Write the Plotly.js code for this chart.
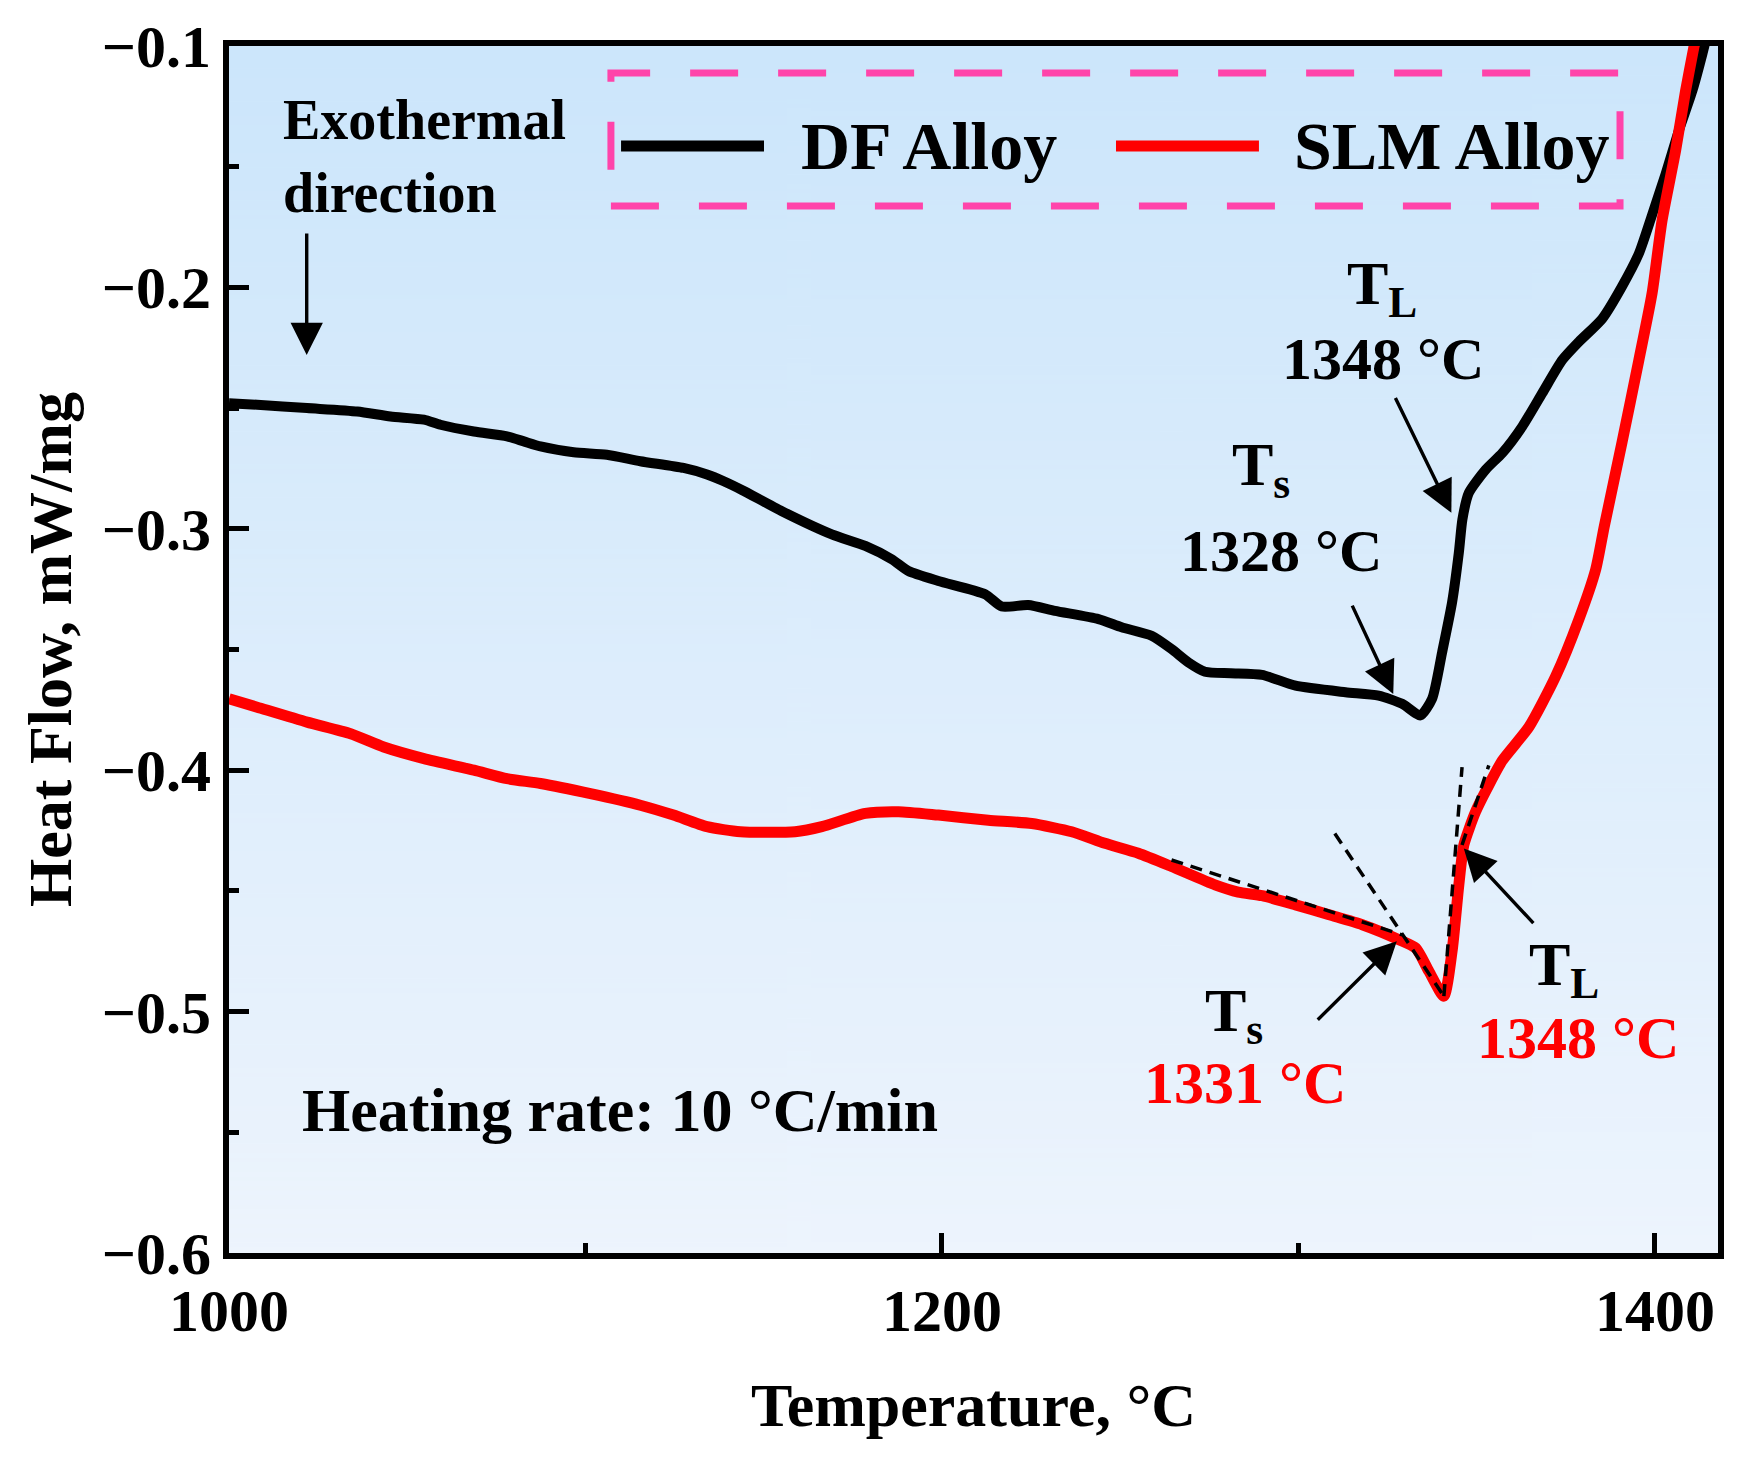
<!DOCTYPE html>
<html>
<head>
<meta charset="utf-8">
<script src="https://cdn.plot.ly/plotly-3.0.1.min.js"></script>
<style>
  html, body { margin: 0; padding: 0; background: #ffffff; }
  #chart { width: 1749px; height: 1460px; }
</style>
</head>
<body>
<div id="chart"></div>
<script>
/* ============================================
   Dados
   ============================================ */
const dfTemp = [1000, 1007.9, 1021.9, 1036.0, 1045.3, 1054.7, 1059.3, 1068.7, 1078.0, 1082.7,
    1087.4, 1096.7, 1106.0, 1115.4, 1127.5, 1134.1, 1138.8, 1144.0, 1155.1, 1169.1,
    1178.5, 1185.9, 1190.6, 1199.0, 1212.1, 1216.8, 1224.2, 1231.7, 1243.9, 1250.4,
    1258.8, 1264.4, 1269.1, 1273.8, 1281.0, 1289.8, 1299.2, 1313.2, 1322.5, 1329.1,
    1334.2, 1337.5, 1340.3, 1343.1, 1345.0, 1346.0, 1347.8, 1352.5, 1357.2, 1362.8,
    1368.4, 1374.0, 1378.7, 1385.2, 1390.8, 1395.5, 1399.2, 1403.0, 1406.7, 1410.5,
    1413.3, 1414.2];
const dfHeat = [-0.2480, -0.2486, -0.2500, -0.2514, -0.2535, -0.2548, -0.2569, -0.2597, -0.2617, -0.2638,
    -0.2659, -0.2683, -0.2693, -0.2720, -0.2748, -0.2775, -0.2803, -0.2840, -0.2927, -0.3023,
    -0.3071, -0.3126, -0.3175, -0.3216, -0.3271, -0.3322, -0.3316, -0.3340, -0.3374, -0.3408,
    -0.3443, -0.3498, -0.3553, -0.3592, -0.3598, -0.3605, -0.3650, -0.3677, -0.3691, -0.3725,
    -0.3773, -0.3704, -0.3512, -0.3305, -0.3099, -0.2961, -0.2851, -0.2755, -0.2686, -0.2576,
    -0.2438, -0.2301, -0.2225, -0.2130, -0.1995, -0.1860, -0.1700, -0.1530, -0.1351, -0.1186,
    -0.1034, -0.0980];

const slmTemp = [1000, 1007.9, 1021.9, 1034.1, 1043.4, 1054.7, 1068.7, 1078.0, 1087.4, 1101.4,
    1115.4, 1124.7, 1134.1, 1143.5, 1158.8, 1166.3, 1178.5, 1187.8, 1199.0, 1213.0,
    1225.2, 1236.4, 1245.7, 1255.1, 1264.4, 1276.6, 1283.1, 1289.8, 1299.2, 1308.6,
    1317.9, 1328.2, 1332.9, 1336.6, 1340.8, 1343.1, 1345.0, 1346.4, 1349.7, 1353.4,
    1357.2, 1364.7, 1372.2, 1378.7, 1383.4, 1385.8, 1390.8, 1395.5, 1399.2, 1402.0,
    1405.8, 1408.6, 1410.9, 1411.3];
const slmHeat = [-0.3704, -0.3739, -0.3801, -0.3849, -0.3904, -0.3952, -0.4000, -0.4035, -0.4055, -0.4097,
    -0.4145, -0.4186, -0.4234, -0.4255, -0.4255, -0.4234, -0.4179, -0.4172, -0.4186, -0.4207,
    -0.4221, -0.4255, -0.4303, -0.4344, -0.4399, -0.4475, -0.4505, -0.4520, -0.4558, -0.4599,
    -0.4640, -0.4702, -0.4737, -0.4833, -0.4936, -0.4750, -0.4475, -0.4310, -0.4172, -0.4062,
    -0.3960, -0.3820, -0.3610, -0.3374, -0.3168, -0.2990, -0.2640, -0.2301, -0.2025, -0.1723,
    -0.1434, -0.1186, -0.1007, -0.0980];

// Tangentes (tracejadas) na curva SLM
const tanBaseTemp = [1264.4, 1329.1];
const tanBaseHeat = [-0.4372, -0.4682];
const tanSolidusTemp = [1310.2, 1340.8];
const tanSolidusHeat = [-0.4262, -0.4936];
const tanRiseTemp = [1340.8, 1345.9];
const tanRiseHeat = [-0.4936, -0.3987];
const tanUpperTemp = [1345.9, 1353.4];
const tanUpperHeat = [-0.4310, -0.3980];

const seriesNames = ['DF Alloy', 'SLM Alloy'];
const seriesColors = ['#000000', '#ff0000'];
const xTickVals = [1000, 1200, 1400];
const yTickVals = [-0.1, -0.2, -0.3, -0.4, -0.5, -0.6];

/* ============================================
   Fundo em gradiente (canvas -> imagem)
   ============================================ */
function gradientImage() {
    const c = document.createElement('canvas');
    c.width = 4;
    c.height = 512;
    const g = c.getContext('2d');
    const grad = g.createLinearGradient(0, 0, 0, 512);
    grad.addColorStop(0, '#cce6fb');
    grad.addColorStop(1, '#edf4fd');
    g.fillStyle = grad;
    g.fillRect(0, 0, 4, 512);
    return c.toDataURL('image/png');
}

const FONT = 'Liberation Serif, Times New Roman, serif';

function txt(text, x, y, size, color, extra) {
    return Object.assign({
        text: text, x: x, y: y, xref: 'x', yref: 'y', showarrow: false,
        xanchor: 'center', yanchor: 'middle',
        font: { family: FONT, size: size, color: color || '#000', weight: 'bold' }
    }, extra || {});
}

function arrow(xHead, yHead, xTail, yTail) {
    return {
        text: '', x: xHead, y: yHead, ax: xTail, ay: yTail,
        xref: 'x', yref: 'y', axref: 'x', ayref: 'y',
        showarrow: true, arrowhead: 2, arrowsize: 1.9, arrowwidth: 3.4,
        arrowcolor: '#000', standoff: 0, startstandoff: 0
    };
}

function dashed(xs, ys) {
    return {
        x: xs, y: ys, type: 'scatter', mode: 'lines', showlegend: false, hoverinfo: 'skip',
        line: { color: '#000', width: 3.5, dash: '12px,8px' }
    };
}

const traces = [
    {
        x: dfTemp, y: dfHeat, type: 'scatter', mode: 'lines', name: seriesNames[0],
        showlegend: false, line: { color: seriesColors[0], width: 10, shape: 'spline', smoothing: 0.6 }
    },
    {
        x: slmTemp, y: slmHeat, type: 'scatter', mode: 'lines', name: seriesNames[1],
        showlegend: false, line: { color: seriesColors[1], width: 11, shape: 'spline', smoothing: 0.6 }
    },
    dashed(tanBaseTemp, tanBaseHeat),
    dashed(tanSolidusTemp, tanSolidusHeat),
    dashed(tanRiseTemp, tanRiseHeat),
    dashed(tanUpperTemp, tanUpperHeat)
];

// Legenda desenhada à mão (caixa tracejada rosa)
const legendShapes = [
    {
        type: 'rect', xref: 'paper', yref: 'paper', x0: 0.2565, x1: 0.9342, y0: 0.8674, y1: 0.9776,
        line: { color: '#ff44aa', width: 7, dash: '48px,40px' }, fillcolor: 'rgba(0,0,0,0)'
    },
    {
        type: 'line', xref: 'paper', yref: 'paper', x0: 0.2633, x1: 0.3593, y0: 0.9171, y1: 0.9171,
        line: { color: seriesColors[0], width: 11 }
    },
    {
        type: 'line', xref: 'paper', yref: 'paper', x0: 0.5957, x1: 0.6917, y0: 0.9171, y1: 0.9171,
        line: { color: seriesColors[1], width: 11 }
    }
];

const annotations = [
    txt(seriesNames[0], 0.3829, 0.9171, 68, '#000', { xref: 'paper', yref: 'paper', xanchor: 'left' }),
    txt(seriesNames[1], 0.7139, 0.9171, 68, '#000', { xref: 'paper', yref: 'paper', xanchor: 'left' }),
    txt('Exothermal<br>direction', 1014.5, -0.1458, 56, '#000', { xanchor: 'left', align: 'left' }),
    arrow(1021.8, -0.228, 1021.8, -0.1771),
    // DF
    txt('T<sub>L</sub>', 1323.5, -0.2000, 62),
    txt('1348 °C', 1323.8, -0.2296, 60),
    arrow(1342.9, -0.2934, 1327.0, -0.2452),
    txt('T<sub>s</sub>', 1289.6, -0.2750, 62),
    txt('1328 °C', 1295.1, -0.3093, 60),
    arrow(1326.6, -0.3684, 1314.9, -0.3312),
    // SLM
    txt('T<sub>s</sub>', 1281.8, -0.5010, 62),
    txt('1331 °C', 1285.0, -0.5296, 60, '#ff0000'),
    arrow(1327.6, -0.4709, 1305.0, -0.5040),
    txt('T<sub>L</sub>', 1374.4, -0.4820, 62),
    txt('1348 °C', 1378.3, -0.5111, 60, '#ff0000'),
    arrow(1346.4, -0.4324, 1366.3, -0.4640),
    txt('Heating rate: 10 °C/min', 1109.6, -0.5406, 62)
];

const axisCommon = {
    showgrid: false, zeroline: false, showline: true, linecolor: '#000', linewidth: 6,
    mirror: true, ticks: 'inside', tickcolor: '#000', tickwidth: 5, ticklen: 20,
    tickfont: { family: FONT, size: 60, color: '#000', weight: 'bold' }
};

const layout = {
    width: 1749,
    height: 1460,
    margin: { l: 229, r: 31, t: 46, b: 207 },
    paper_bgcolor: '#ffffff',
    plot_bgcolor: 'rgba(0,0,0,0)',
    showlegend: false,
    xaxis: Object.assign({}, axisCommon, {
        range: [1000, 1417.7], tickvals: xTickVals, ticklabelstandoff: 0,
        minor: { dtick: 100, tick0: 1000, ticks: 'inside', ticklen: 10, tickwidth: 5, tickcolor: '#000' },
        title: {
            text: 'Temperature, °C', standoff: 42,
            font: { family: FONT, size: 62, color: '#000', weight: 'bold' }
        }
    }),
    yaxis: Object.assign({}, axisCommon, {
        range: [-0.6, -0.1], tickvals: yTickVals, tickformat: '.1f', ticklabelstandoff: 0,
        minor: { dtick: 0.05, tick0: -0.6, ticks: 'inside', ticklen: 10, tickwidth: 5, tickcolor: '#000' },
        title: {
            text: 'Heat Flow, mW/mg', standoff: 12,
            font: { family: FONT, size: 62, color: '#000', weight: 'bold' }
        }
    }),
    images: [{
        source: gradientImage(), xref: 'paper', yref: 'paper', x: 0, y: 1,
        sizex: 1, sizey: 1, sizing: 'stretch', xanchor: 'left', yanchor: 'top', layer: 'below'
    }],
    shapes: legendShapes,
    annotations: annotations
};

Plotly.newPlot('chart', traces, layout, { displayModeBar: false, staticPlot: true });
</script>
</body>
</html>
